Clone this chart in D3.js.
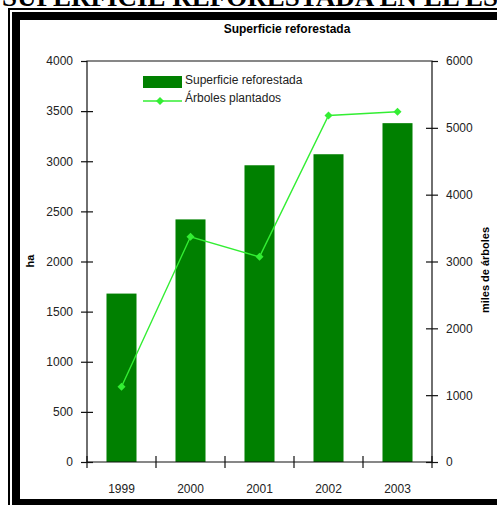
<!DOCTYPE html>
<html>
<head>
<meta charset="utf-8">
<script src="https://cdn.jsdelivr.net/npm/d3@7"></script>
<style>
  body { margin: 0; background: #fff; }
  svg { display: block; font-family: "Liberation Sans", Arial, sans-serif; }
</style>
</head>
<body>
<div id="chart"></div>
<script>
// data
const years = ['1999', '2000', '2001', '2002', '2003']
const superficie = [1680, 2420, 2960, 3070, 3380]   // ha
const arboles = [1125, 3370, 3070, 5185, 5240]       // miles de árboles
const leftTicks = [0, 500, 1000, 1500, 2000, 2500, 3000, 3500, 4000]
const rightTicks = [0, 1000, 2000, 3000, 4000, 5000, 6000]

const WIDTH = 497
const HEIGHT = 505
const plot = { left: 87, right: 432, top: 61, bottom: 462 }

const BAR = '#008000'
const LINE = '#33ee33'

const svg = d3.select('#chart')
  .append('svg')
  .attr('width', WIDTH)
  .attr('height', HEIGHT)

// page heading, clipped at the top
svg.append('text')
  .attr('x', 2)
  .attr('y', 6)
  .attr('font-family', '"Liberation Serif", "Times New Roman", serif')
  .attr('font-weight', 'bold')
  .attr('font-size', 27)
  .text('SUPERFICIE REFORESTADA EN EL ESTADO')

// double frame (right side runs off the picture)
svg.append('rect')
  .attr('x', 9).attr('y', 9)
  .attr('width', 520).attr('height', 520)
  .attr('fill', 'none').attr('stroke', '#000').attr('stroke-width', 2)
svg.append('rect')
  .attr('x', 16).attr('y', 16)
  .attr('width', 500).attr('height', 487)
  .attr('fill', 'none').attr('stroke', '#000').attr('stroke-width', 8)

//! SCALES
const xScale = d3.scaleBand()
  .domain(years)
  .range([plot.left, plot.right])

const yLeft = d3.scaleLinear()
  .domain([0, 4000])
  .range([plot.bottom, plot.top])

const yRight = d3.scaleLinear()
  .domain([0, 6000])
  .range([plot.bottom, plot.top])

const barWidth = xScale.bandwidth() * 0.435

//! BARS
svg.append('g')
  .selectAll('rect')
  .data(superficie)
  .enter()
  .append('rect')
  .attr('x', (d, i) => xScale(years[i]) + (xScale.bandwidth() - barWidth) / 2)
  .attr('y', d => yLeft(d))
  .attr('width', barWidth)
  .attr('height', d => yLeft(0) - yLeft(d))
  .attr('fill', BAR)

//! BOX
svg.append('path')
  .attr('d', `M${plot.left},${plot.bottom}V${plot.top}H${plot.right}V${plot.bottom}Z`)
  .attr('fill', 'none')
  .attr('stroke', '#111')
  .attr('stroke-width', 1.2)

//! AXES
const leftAxis = svg.append('g')
  .attr('transform', `translate(${plot.left},0)`)
  .call(d3.axisLeft(yLeft).tickValues(leftTicks).tickFormat(d3.format('d')).tickSize(6).tickPadding(8))
leftAxis.select('.domain').remove()
leftAxis.selectAll('.tick line').attr('x2', 6).attr('x1', -6).attr('stroke', '#111').attr('stroke-width', 1.2)
leftAxis.selectAll('.tick line').filter(d => d === 4000).attr('x2', 0)
leftAxis.selectAll('text').attr('font-size', 12).attr('fill', '#222').attr('font-family', null)

const rightAxis = svg.append('g')
  .attr('transform', `translate(${plot.right},0)`)
  .call(d3.axisRight(yRight).tickValues(rightTicks).tickFormat(d3.format('d')).tickSize(6).tickPadding(8))
rightAxis.select('.domain').remove()
rightAxis.selectAll('.tick line').attr('x1', -6).attr('x2', 6).attr('stroke', '#111').attr('stroke-width', 1.2)
rightAxis.selectAll('.tick line').filter(d => d === 6000).attr('x1', 0)
rightAxis.selectAll('text').attr('font-size', 12).attr('fill', '#222').attr('font-family', null)

const bottomAxis = svg.append('g')
  .attr('transform', `translate(0,${plot.bottom})`)
  .call(d3.axisBottom(xScale).tickSize(0).tickPadding(22))
bottomAxis.select('.domain').remove()
bottomAxis.selectAll('text').attr('font-size', 12).attr('fill', '#222').attr('font-family', null)

// category boundary ticks
bottomAxis.selectAll('line.sep')
  .data(years.map(y => xScale(y)).concat([xScale.range()[1]]))
  .enter()
  .append('line')
  .attr('class', 'sep')
  .attr('x1', d => d).attr('x2', d => d)
  .attr('y1', -6).attr('y2', 6)
  .attr('stroke', '#111')
  .attr('stroke-width', 1.2)

//! LINE
const cx = (d, i) => xScale(years[i]) + xScale.bandwidth() / 2
const line = d3.line()
  .x(cx)
  .y(d => yRight(d))

svg.append('path')
  .datum(arboles)
  .attr('d', line)
  .attr('fill', 'none')
  .attr('stroke', LINE)
  .attr('stroke-width', 1.4)

// square turned 45deg as marker
const diamond = d3.symbol().type(d3.symbolSquare).size(32)
svg.append('g')
  .selectAll('path')
  .data(arboles)
  .enter()
  .append('path')
  .attr('d', diamond)
  .attr('transform', (d, i) => `translate(${cx(d, i)},${yRight(d)}) rotate(45)`)
  .attr('fill', LINE)

//! TITLES
svg.append('text')
  .attr('x', 287)
  .attr('y', 33)
  .attr('text-anchor', 'middle')
  .attr('font-size', 12)
  .attr('font-weight', 'bold')
  .text('Superficie reforestada')

svg.append('text')
  .attr('transform', 'translate(34,261) rotate(-90)')
  .attr('text-anchor', 'middle')
  .attr('font-size', 11)
  .attr('font-weight', 'bold')
  .text('ha')

svg.append('text')
  .attr('transform', 'translate(489,270) rotate(-90)')
  .attr('text-anchor', 'middle')
  .attr('font-size', 11)
  .attr('font-weight', 'bold')
  .text('miles de árboles')

//! LEGEND
const legend = svg.append('g').attr('transform', 'translate(143,76)')
legend.append('rect')
  .attr('width', 39).attr('height', 12)
  .attr('fill', BAR)
legend.append('text')
  .attr('x', 42).attr('y', 8)
  .attr('font-size', 12)
  .attr('fill', '#222')
  .text('Superficie reforestada')
legend.append('line')
  .attr('x1', 0).attr('x2', 39)
  .attr('y1', 25).attr('y2', 25)
  .attr('stroke', LINE).attr('stroke-width', 1.4)
legend.append('path')
  .attr('d', diamond)
  .attr('transform', 'translate(17,25) rotate(45)')
  .attr('fill', LINE)
legend.append('text')
  .attr('x', 42).attr('y', 26)
  .attr('font-size', 12)
  .attr('fill', '#222')
  .text('Árboles plantados')
</script>
</body>
</html>
